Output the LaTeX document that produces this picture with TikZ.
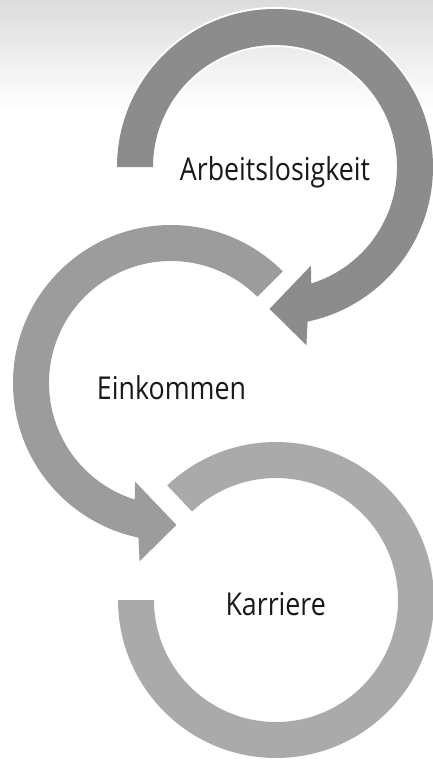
\documentclass[tikz,border=0pt]{standalone}
\usepackage{fontspec}
\setmainfont{Open Sans}[FakeStretch=0.85]
\definecolor{cA}{RGB}{140,140,140}
\definecolor{cB}{RGB}{156,156,156}
\definecolor{cC}{RGB}{170,170,170}
\definecolor{bgtop}{RGB}{220,220,220}
\begin{document}
\begin{tikzpicture}[x=1pt,y=1pt,
  lbl/.style={font=\fontsize{31.5}{36}\selectfont, text=black!90, inner sep=0pt, anchor=base},
  ring/.style={preaction={draw=white, line width=4pt, line join=round}}]
\useasboundingbox (0,0) rectangle (433,-760);
\fill[white] (0,0) rectangle (433,-760);
\shade[top color=bgtop, bottom color=white] (0,0) rectangle (433,-110);
\clip (0,0) rectangle (433,-760);

% circle 3 (Karriere)
\fill[cC, ring, shift={(276,-600)}]
  (133.5:158) arc[start angle=133.5, end angle=-180, radius=158]
  -- (180:122) arc[start angle=-180, end angle=133.5, radius=122] -- cycle;

% circle 2 (Einkommen)
\fill[cB, ring, shift={(171,-383)}]
  (45:158) arc[start angle=45, end angle=258.1, radius=158]
  -- (260:181) -- (272.2:142) -- (250:105) -- (252.7:122)
  arc[start angle=252.7, end angle=45, radius=122] -- cycle;

% circle 1 (Arbeitslosigkeit)
\fill[cA, ring, shift={(275,-167)}]
  (180:158) arc[start angle=180, end angle=-78.1, radius=158]
  -- (-80:181) -- (-92.2:142) -- (-70:105) -- (-72.7:122)
  arc[start angle=-72.7, end angle=180, radius=122] -- cycle;

\node[lbl] (t1) at (275,-180) {Arbeitslosigkeit};
\node[lbl] (t2) at (171.5,-399.5) {Einkommen};
\node[lbl] (t3) at (275.7,-615.5) {Karriere};
\end{tikzpicture}
\end{document}
